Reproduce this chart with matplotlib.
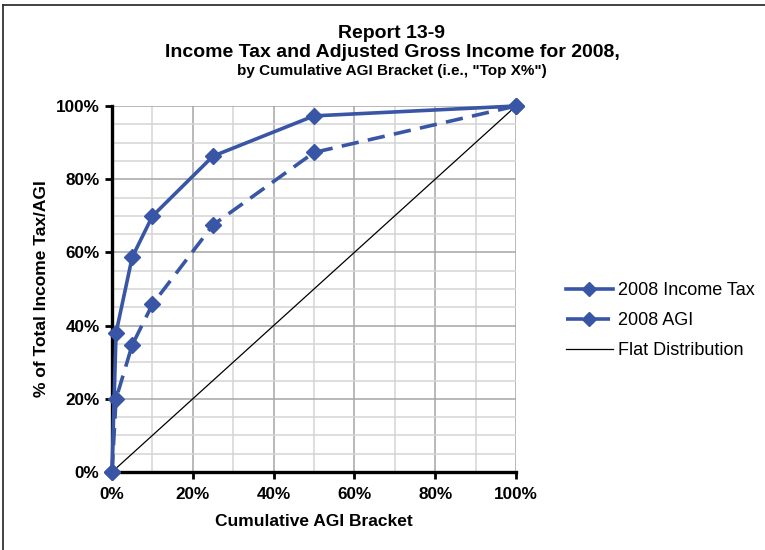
import matplotlib
matplotlib.use("Agg")
import matplotlib.pyplot as plt
from matplotlib.lines import Line2D
from matplotlib.ticker import MultipleLocator, FuncFormatter

# Cumulative AGI bracket ("top X%") and shares of total (percent)
brackets = [0, 1, 5, 10, 25, 50, 100]
income_tax_share = [0, 38.0, 58.7, 69.9, 86.3, 97.3, 100]
agi_share = [0, 20.0, 34.7, 45.8, 67.5, 87.3, 100]
flat_x = [0, 100]
flat_y = [0, 100]

series_labels = ["2008 Income Tax", "2008 AGI", "Flat Distribution"]
title_lines = ["Report 13-9",
               "Income Tax and Adjusted Gross Income for 2008,",
               'by Cumulative AGI Bracket (i.e., "Top X%")']
x_label = "Cumulative AGI Bracket"
y_label = "% of Total Income Tax/AGI"

plt.rcParams['font.family'] = ['Liberation Sans', 'DejaVu Sans']

W, H = 765, 550
fig = plt.figure(figsize=(W / 100, H / 100), dpi=100)
fig.patch.set_facecolor("white")

# plot area in pixel terms
x0, x1, y0, y1 = 112, 516, 472, 106
ax = fig.add_axes([x0 / W, 1 - y0 / H, (x1 - x0) / W, (y0 - y1) / H])

blue = "#3956A6"

ax.set_xlim(0, 100)
ax.set_ylim(0, 100)

# grid: darker majors, lighter minors
ax.xaxis.set_major_locator(MultipleLocator(20))
ax.xaxis.set_minor_locator(MultipleLocator(10))
ax.yaxis.set_major_locator(MultipleLocator(20))
ax.yaxis.set_minor_locator(MultipleLocator(5))
ax.grid(which="minor", color="#d4d4d4", linewidth=1.1, zorder=0)
ax.grid(which="major", color="#a6a6a6", linewidth=1.1, zorder=0)
ax.set_axisbelow(True)

pct = FuncFormatter(lambda v, p: f"{v:.0f}%")
ax.xaxis.set_major_formatter(pct)
ax.yaxis.set_major_formatter(pct)

ax.tick_params(which="major", direction="out", length=5, width=2, color="black",
               labelsize=12.3)
ax.tick_params(axis="x", which="major", pad=6)
ax.tick_params(axis="y", which="major", pad=4)
ax.tick_params(which="minor", length=0)
for lab in ax.get_xticklabels() + ax.get_yticklabels():
    lab.set_fontweight("bold")

for side in ("top", "right"):
    ax.spines[side].set_visible(False)
for side in ("left", "bottom"):
    ax.spines[side].set_linewidth(2.4)
    ax.spines[side].set_color("black")
    ax.spines[side].set_zorder(2.5)

l_tax, = ax.plot(brackets, income_tax_share, color=blue, linewidth=2.6,
                 marker="D", markersize=8.5, clip_on=False, zorder=4,
                 label=series_labels[0])
l_agi, = ax.plot(brackets, agi_share, color=blue, linewidth=2.6,
                 linestyle=(0, (4.8, 2.6)), dash_capstyle="butt",
                 marker="D", markersize=8.5, clip_on=False, zorder=4,
                 label=series_labels[1])
l_flat, = ax.plot(flat_x, flat_y, color="black", linewidth=0.9, zorder=3,
                  label=series_labels[2])

ax.set_xlabel(x_label, fontsize=12.5, fontweight="bold")
ax.set_ylabel(y_label, fontsize=12.5, fontweight="bold")
ax.xaxis.set_label_coords(0.5, (y0 - 514) / (y0 - y1))
ax.yaxis.set_label_coords((49 - x0) / (x1 - x0), 0.5)

# titles
cx = 392 / W
fig.text(cx, 1 - 38 / H, title_lines[0], ha="center", va="baseline",
         fontsize=14, fontweight="bold")
fig.text(cx, 1 - 57 / H, title_lines[1], ha="center", va="baseline",
         fontsize=14, fontweight="bold")
fig.text(cx, 1 - 75.5 / H, title_lines[2], ha="center", va="baseline",
         fontsize=11, fontweight="bold")

leg = fig.legend(handles=[l_tax, l_agi, l_flat], labels=series_labels,
                 loc="upper left", bbox_to_anchor=(566 / W, 1 - 282 / H),
                 frameon=False, fontsize=13, handlelength=2.6,
                 handletextpad=0.3, labelspacing=0.72, borderaxespad=0,
                 borderpad=0)
for line in leg.get_lines():
    line.set_markersize(7)

# outer frame lines (top and left)
fig.add_artist(Line2D([3 / W, 1], [1 - 5 / H, 1 - 5 / H], color="#333333",
                      linewidth=1.3, transform=fig.transFigure))
fig.add_artist(Line2D([3 / W, 3 / W], [0, 1 - 5 / H], color="#333333",
                      linewidth=1.3, transform=fig.transFigure))

fig.savefig("out.png", dpi=100)
